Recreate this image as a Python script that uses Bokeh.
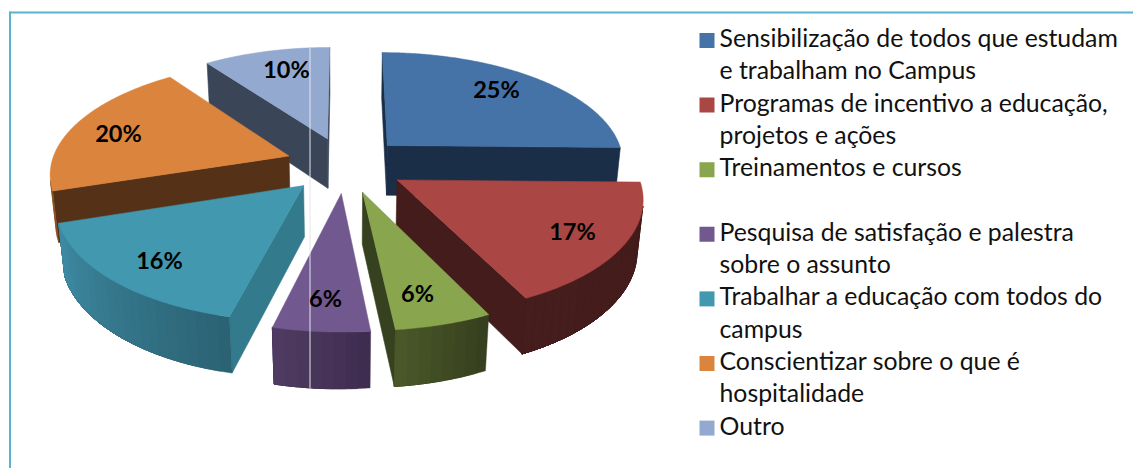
from bokeh.plotting import figure
from bokeh.models import Range1d
from bokeh.core.properties import value
from bokeh.embed import file_html
from bokeh.resources import INLINE
import math

# ---- data ----
categories = [
    ["Sensibilização de todos que estudam", "e trabalham no Campus"],
    ["Programas de incentivo a educação,", "projetos e ações"],
    ["Treinamentos e cursos", ""],
    ["Pesquisa de satisfação e palestra", "sobre o assunto"],
    ["Trabalhar a educação com todos do", "campus"],
    ["Conscientizar sobre o que é", "hospitalidade"],
    ["Outro"],
]
shares = [25.3, 17.49, 5.54, 5.5, 16.17, 20.0, 10.0]
labels = ["25%", "17%", "6%", "6%", "16%", "20%", "10%"]

# ---- styles ----
top_colors = ["#4572A7", "#AA4643", "#89A54E", "#71588F", "#4198AF", "#DB843D", "#93A9CF"]
wall_colors = ["#1B2E47", "#441C1B", "#36411F", "#3F2D50", "#337A8C", "#553217", "#3A4558"]
rim_light = ["#1B2E47", "#451D1C", "#4B5929", "#503C62", "#3F8CA5", "#8A4F1F", "#3A4558"]
rim_dark = ["#1B2E47", "#431B1A", "#353E1D", "#3E2C4F", "#2B6273", "#8A4F1F", "#3A4558"]

# ---- layout (screen pixels) ----
W, H = 1133, 468
CX, CY = 345.0, 164.1
R = 238.0
EXPLODE = 60.0
K = 0.00058
TILT = 0.465
THICK = 51.5
W_BOTTOM = 0.02
LABEL_XY = [(496, 88), (572, 230), (417, 292), (325, 297), (159, 259), (118, 132), (286, 68)]
LEGEND_X, LEGEND_SWATCH = 719, 706.5
LEGEND_Y0, LEGEND_STEP = 40.0, 32.3
LEGEND_TEXT_DY = -3
ARTEFACT_X, ARTEFACT_Y = 309.5, (47, 388)
FRAME = "#5AB2CC"


def project(u, v, bottom=False):
    w = 1 + K * v + (W_BOTTOM if bottom else 0)
    return CX + u / w, CY + (-TILT * v + (THICK if bottom else 0)) / w


def signed_area(pts):
    area = 0.0
    for (x0, y0), (x1, y1) in zip(pts, pts[1:] + pts[:1]):
        area += x0 * y1 - x1 * y0
    return area


p = figure(width=W, height=H, toolbar_location=None, output_backend="svg",
           x_range=Range1d(0, W), y_range=Range1d(H, 0),
           min_border=0, outline_line_color=None)
p.axis.visible = False
p.grid.visible = False
p.background_fill_color = "white"
p.border_fill_color = "white"

# frame
p.line([9.5, 9.5], [11, 468], line_color=FRAME, line_width=2)
p.line([9, 1133], [12, 12], line_color=FRAME, line_width=2)

total = sum(shares)
slices = []
cum = 0.0
for i, s in enumerate(shares):
    a0 = cum / total * 2 * math.pi
    cum += s
    a1 = cum / total * 2 * math.pi
    mid = (a0 + a1) / 2
    slices.append((math.cos(mid), i, a0, a1, mid))

# painter's order: far slices first
for _, i, a0, a1, mid in sorted(slices, reverse=True):
    ou, ov = EXPLODE * math.sin(mid), EXPLODE * math.cos(mid)
    n = max(4, int((a1 - a0) * 24))
    sub = 5
    m = n * sub
    rim = [(ou + R * math.sin(a0 + (a1 - a0) * j / m), ov + R * math.cos(a0 + (a1 - a0) * j / m))
           for j in range(m + 1)]

    # radial walls
    for end, sign in ((rim[0], -1), (rim[-1], 1)):
        quad = [project(ou, ov), project(*end), project(*end, True), project(ou, ov, True)]
        if signed_area(quad) * sign > 0:
            xs, ys = zip(*quad)
            p.patch(list(xs), list(ys), fill_color=wall_colors[i], line_color=wall_colors[i], line_width=0.6)

    # outer rim, shaded in overlapping bands (each band runs to the end of
    # the visible rim, so no seams can open between neighbours)
    lr, lg, lb = [int(rim_light[i][k:k + 2], 16) for k in (1, 3, 5)]
    dr, dg, db = [int(rim_dark[i][k:k + 2], 16) for k in (1, 3, 5)]
    visible = [j for j in range(m)
               if signed_area([project(*rim[j]), project(*rim[j + 1]),
                               project(*rim[j + 1], True), project(*rim[j], True)]) < 0]
    for b in range(n):
        ids = [j for j in visible if j >= b * sub]
        if not ids:
            continue
        t = (b + 0.5) / n
        c = "#%02X%02X%02X" % (round(dr + (lr - dr) * t), round(dg + (lg - dg) * t), round(db + (lb - db) * t))
        upper = [project(*rim[j]) for j in ids] + [project(*rim[ids[-1] + 1])]
        lower = [project(*rim[j], True) for j in ids] + [project(*rim[ids[-1] + 1], True)]
        pts = upper + lower[::-1]
        xs, ys = zip(*pts)
        p.patch(list(xs), list(ys), fill_color=c, line_color=c, line_width=0.4)

    # top face
    pts = [project(ou, ov)] + [project(*q) for q in rim]
    xs, ys = zip(*pts)
    p.patch(list(xs), list(ys), fill_color=top_colors[i], line_color=top_colors[i], line_width=0.5)

# thin light vertical seam of the source picture
p.line([ARTEFACT_X, ARTEFACT_X], list(ARTEFACT_Y), line_color="#E6E6EE", line_width=1)

# percentage labels
p.text([q[0] for q in LABEL_XY], [q[1] for q in LABEL_XY], text=labels,
       text_font=value("Lato"), text_font_style="bold", text_font_size="23.5px",
       text_align="center", text_baseline="middle", text_color="black")

# legend
y = LEGEND_Y0
for i, lines in enumerate(categories):
    p.rect([LEGEND_SWATCH], [y], width=15, height=15, fill_color=top_colors[i], line_color=None)
    for line in lines:
        if line:
            p.text([LEGEND_X], [y + LEGEND_TEXT_DY], text=[line], text_font=value("Lato"), text_font_size="24.8px",
                   text_align="left", text_baseline="middle", text_color="#111111")
        y += LEGEND_STEP

open("out.html", "w").write(file_html(p, INLINE))
